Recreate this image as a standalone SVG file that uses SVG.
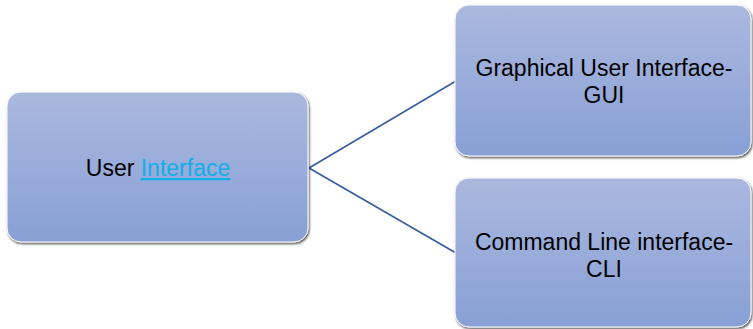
<svg xmlns="http://www.w3.org/2000/svg" width="753" height="329" viewBox="0 0 753 329">
<defs>
<linearGradient id="g" x1="0" y1="0" x2="0" y2="1">
<stop offset="0" stop-color="#abb8de"/>
<stop offset="1" stop-color="#88a0d6"/>
</linearGradient>
<filter id="sh" x="-5%" y="-5%" width="110%" height="115%">
<feDropShadow dx="1" dy="1.5" stdDeviation="0.8" flood-color="#000" flood-opacity="0.7"/>
</filter>
</defs>
<style>
.box{fill:url(#g);stroke:#ffffff;stroke-width:1;filter:url(#sh)}
.t{font-family:"Liberation Sans",Arial,sans-serif;font-size:23px;fill:#000;text-anchor:middle}
.link{fill:#11aee8;text-decoration:underline}
.c{stroke:#3b5f9f;stroke-width:1.8;fill:none}
</style>
<rect width="753" height="329" fill="#fff"/>
<g id="connectors">
<line class="c" x1="309" y1="168" x2="456" y2="81"/>
<line class="c" x1="309" y1="168" x2="456" y2="253"/>
</g>
<g id="user-interface">
<rect class="box" x="7" y="92" width="301" height="150" rx="14"/>
<text class="t" x="158" y="176">User <tspan class="link">Interface</tspan></text>
</g>
<g id="gui">
<rect class="box" x="455" y="5" width="296" height="151" rx="14"/>
<text class="t" x="604" y="76">Graphical User Interface-</text>
<text class="t" x="604" y="103">GUI</text>
</g>
<g id="cli">
<rect class="box" x="455" y="178" width="296" height="149" rx="14"/>
<text class="t" x="604" y="250">Command Line interface-</text>
<text class="t" x="604" y="277">CLI</text>
</g>
</svg>
